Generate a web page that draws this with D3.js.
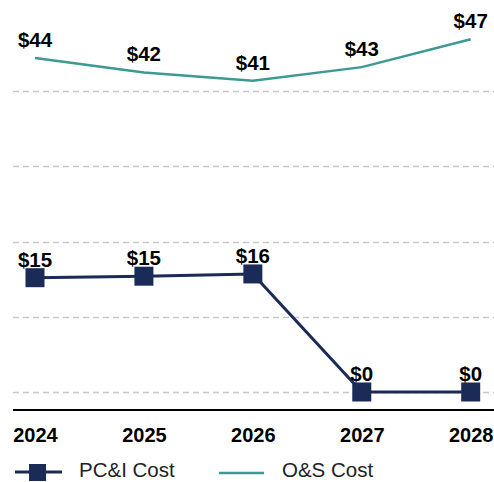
<!DOCTYPE html>
<html><head><meta charset="utf-8">
<script src="https://cdn.jsdelivr.net/npm/d3@7"></script>
<style>body{margin:0;background:#fff}svg{display:block}</style>
</head><body>
<svg id="c" width="494" height="482"></svg>
<script>
const years = ["2024","2025","2026","2027","2028"];
const pciCost = [15.2, 15.4, 15.7, 0, 0];
const osCost = [44.4, 42.5, 41.4, 43.2, 46.9];
const pciLabels = ["$15","$15","$16","$0","$0"];
const osLabels = ["$44","$42","$41","$43","$47"];
const gridTicks = [0, 10, 20, 30, 40];
const seriesNames = ["PC&I Cost", "O&S Cost"];

const navy = "#1b2b57", teal = "#3b9a91";
const svg = d3.select("#c");
const x = d3.scalePoint().domain(years).range([35, 470.7]);
const y = d3.scaleLinear().domain([0, 10]).range([392, 316.8]);
const font = "Liberation Sans, Arial, sans-serif";

// gridlines
svg.append("g").selectAll("line").data(gridTicks).join("line")
  .attr("x1", 13).attr("x2", 494)
  .attr("y1", d => Math.round(y(d)) + 0.5).attr("y2", d => Math.round(y(d)) + 0.5)
  .attr("stroke", "#c8c8c8").attr("stroke-width", 1.5).attr("stroke-dasharray", "6,4");

// axis
const xAxis = d3.axisBottom(x).tickSize(0).tickPadding(18);
const ax = svg.append("g").attr("transform", "translate(0,410)").call(xAxis);
ax.select(".domain").remove();
ax.append("line").attr("x1", 13).attr("x2", 494).attr("y1", 0).attr("y2", 0)
  .attr("stroke", "#000").attr("stroke-width", 2);
ax.selectAll(".tick text").attr("font-family", font).attr("font-weight", "bold")
  .attr("font-size", 20).attr("fill", "#000");

const line = d3.line().x((d, i) => x(years[i])).y(d => y(d));

svg.append("path").datum(osCost).attr("d", line).attr("fill", "none")
  .attr("stroke", teal).attr("stroke-width", 2.5);
svg.append("path").datum(pciCost).attr("d", line).attr("fill", "none")
  .attr("stroke", navy).attr("stroke-width", 3);
svg.append("g").selectAll("rect").data(pciCost).join("rect")
  .attr("x", (d, i) => x(years[i]) - 9.5).attr("y", d => y(d) - 9.5)
  .attr("width", 19).attr("height", 19).attr("fill", navy);

function labels(vals, texts) {
  svg.append("g").selectAll("text").data(vals).join("text")
    .attr("x", (d, i) => x(years[i])).attr("y", d => y(d) - 11)
    .attr("text-anchor", "middle").attr("font-family", font).attr("font-weight", "bold")
    .attr("font-size", 20.5).attr("fill", "#000").text((d, i) => texts[i]);
}
labels(osCost, osLabels);
labels(pciCost, pciLabels);

// legend
const lg = svg.append("g");
lg.append("line").attr("x1", 15).attr("x2", 62).attr("y1", 472).attr("y2", 472)
  .attr("stroke", navy).attr("stroke-width", 3);
lg.append("rect").attr("x", 29).attr("y", 464).attr("width", 17).attr("height", 17).attr("fill", navy);
lg.append("text").attr("x", 79).attr("y", 477).attr("font-family", font).attr("font-size", 20.5)
  .attr("fill", "#222").text(seriesNames[0]);
lg.append("line").attr("x1", 219).attr("x2", 264).attr("y1", 473).attr("y2", 473)
  .attr("stroke", teal).attr("stroke-width", 2.5);
lg.append("text").attr("x", 282).attr("y", 477).attr("font-family", font).attr("font-size", 20.5)
  .attr("fill", "#222").text(seriesNames[1]);
</script>
</body></html>
